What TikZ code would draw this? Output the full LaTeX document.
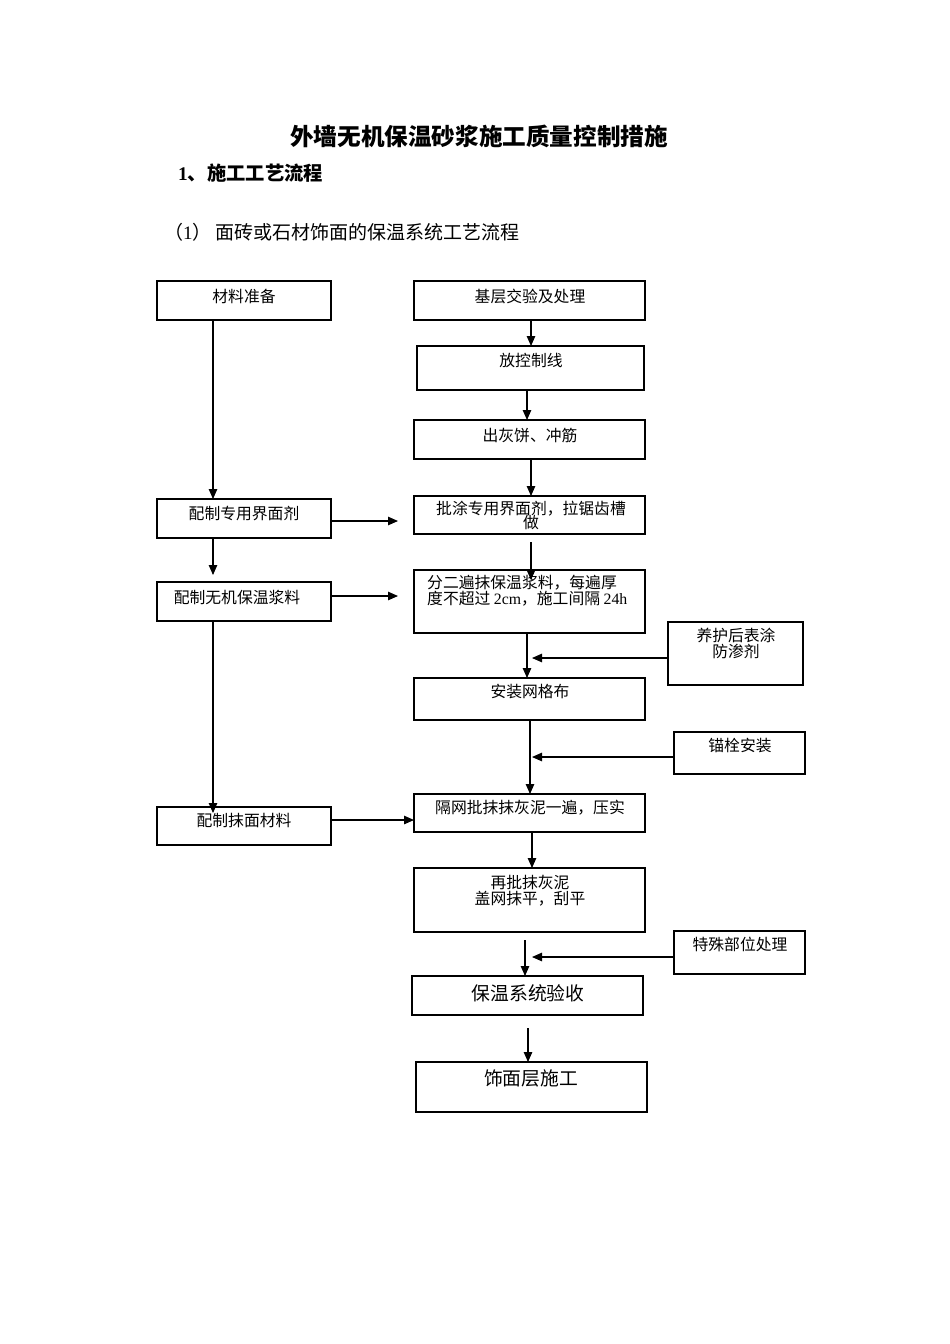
\documentclass[tikz,border=0pt]{standalone}
\usepackage{fontspec}
\setmainfont{Liberation Serif}
\newfontfamily\cjk{Noto Sans CJK SC}
\usetikzlibrary{arrows.meta}
\newcommand\bx[5]{\node[box, minimum width={(#4-#2)*1pt}, minimum height={(#5-#3)*1pt}] (#1) at ({(#2+#4)/2},{-(#3+#5)/2}) {};}
\tikzset{
  box/.style={draw, line width=1.1pt, inner sep=0pt, outer sep=0pt},
  txt/.style={inner sep=0pt, font=\cjk\fontsize{15.8}{17}\selectfont, align=center},
  big/.style={inner sep=0pt, font=\cjk\fontsize{18.8}{20}\selectfont},
  arr/.style={line width=1.1pt, -{Triangle[length=10pt,width=8.5pt]}},
  ln/.style={line width=1.1pt}
}
\begin{document}
\begin{tikzpicture}[x=1pt,y=1pt]
\useasboundingbox (0,0) rectangle (950,-1344);
% headings
\node[inner sep=0pt, font=\cjk\bfseries\fontsize{23.6}{25}\selectfont] (title) at (479,-136) {外墙无机保温砂浆施工质量控制措施};
\node[inner sep=0pt, anchor=west, font=\cjk\bfseries\fontsize{19.3}{21}\selectfont] (h1) at (178,-173) {{\rmfamily\bfseries 1}、施工工艺流程};
\node[inner sep=0pt, anchor=west, font=\cjk\fontsize{19}{21}\selectfont] (h2) at (164,-232) {（{\rmfamily 1}）\ 面砖或石材饰面的保温系统工艺流程};
% boxes
\bx{L1}{157}{281}{331}{320}
\bx{R1}{414}{281}{645}{320}
\bx{R2}{417}{346}{644}{390}
\bx{R3}{414}{420}{645}{459}
\bx{L2}{157}{499}{331}{538}
\bx{R4}{414}{496}{645}{534}
\bx{L3}{157}{582}{331}{621}
\bx{R5}{414}{570}{645}{633}
\bx{S1}{668}{622}{803}{685}
\bx{R6}{414}{678}{645}{720}
\bx{S2}{674}{732}{805}{774}
\bx{L4}{157}{807}{331}{845}
\bx{R7}{414}{794}{645}{832}
\bx{R8}{414}{868}{645}{932}
\bx{S3}{674}{931}{805}{974}
\bx{R9}{412}{976}{643}{1015}
\bx{R10}{416}{1062}{647}{1112}
% texts
\node[txt] (tL1) at (244,-296) {材料准备};
\node[txt] (tR1) at (530,-296) {基层交验及处理};
\node[txt] (tR2) at (531,-360) {放控制线};
\node[txt] (tR3) at (530,-435) {出灰饼、冲筋};
\node[txt] (tL2) at (244,-514) {配制专用界面剂};
\node[txt, anchor=north] (tR4) at (531,-501) {批涂专用界面剂，拉锯齿槽\\[-3pt]做};
\node[txt] (tL3) at (237,-597) {配制无机保温浆料};
\node[txt, anchor=north west, align=left] (tR5) at (427,-575) {分二遍抹保温浆料，每遍厚\\[-1pt]度不超过 {\rmfamily 2cm}，施工间隔 {\rmfamily 24h}};
\node[txt, anchor=north] (tS1) at (736,-628) {养护后表涂\\[-1pt]防渗剂};
\node[txt] (tR6) at (530,-692) {安装网格布};
\node[txt] (tS2) at (740,-746) {锚栓安装};
\node[txt] (tL4) at (244,-821) {配制抹面材料};
\node[txt] (tR7) at (530,-808) {隔网批抹抹灰泥一遍，压实};
\node[txt, anchor=north] (tR8) at (530,-875) {再批抹灰泥\\[-1pt]盖网抹平，刮平};
\node[txt] (tS3) at (740,-944) {特殊部位处理};
\node[big] (tR9) at (528,-993) {保温系统验收};
\node[big] (tR10) at (531,-1078) {饰面层施工};
% coordinates
\coordinate (c1) at (398,-521);
\coordinate (c2) at (398,-596);
\coordinate (c3) at (213,-575);
\coordinate (c4) at (213,-813);
\coordinate (c5) at (531,-542);
\coordinate (c6) at (531,-580);
\coordinate (c7) at (525,-940);
\coordinate (c8) at (528,-1028);
\coordinate (s1) at (532,-658);
\coordinate (s2) at (532,-757);
\coordinate (s3) at (532,-957);
% left column
\draw[arr] (L1.south -| 213,0) -- (L2.north -| 213,0);
\draw[arr] (L2.south -| 213,0) -- (c3);
\draw[arr] (L3.south -| 213,0) -- (c4);
\draw[arr] (L2.east |- c1) -- (c1);
\draw[arr] (L3.east |- c2) -- (c2);
\draw[arr] (L4.east |- 0,-820) -- (R7.west |- 0,-820);
% right column
\draw[arr] (R1.south -| 531,0) -- (R2.north -| 531,0);
\draw[arr] (R2.south -| 527,0) -- (R3.north -| 527,0);
\draw[arr] (R3.south -| 531,0) -- (R4.north -| 531,0);
\draw[arr] (c5) -- (c6);
\draw[arr] (R5.south -| 527,0) -- (R6.north -| 527,0);
\draw[arr] (R6.south -| 530,0) -- (R7.north -| 530,0);
\draw[arr] (R7.south -| 532,0) -- (R8.north -| 532,0);
\draw[arr] (c7) -- (R9.north -| c7);
\draw[arr] (c8) -- (R10.north -| c8);
% side inputs
\draw[arr] (S1.west |- s1) -- (s1);
\draw[arr] (S2.west |- s2) -- (s2);
\draw[arr] (S3.west |- s3) -- (s3);
\end{tikzpicture}
\end{document}
